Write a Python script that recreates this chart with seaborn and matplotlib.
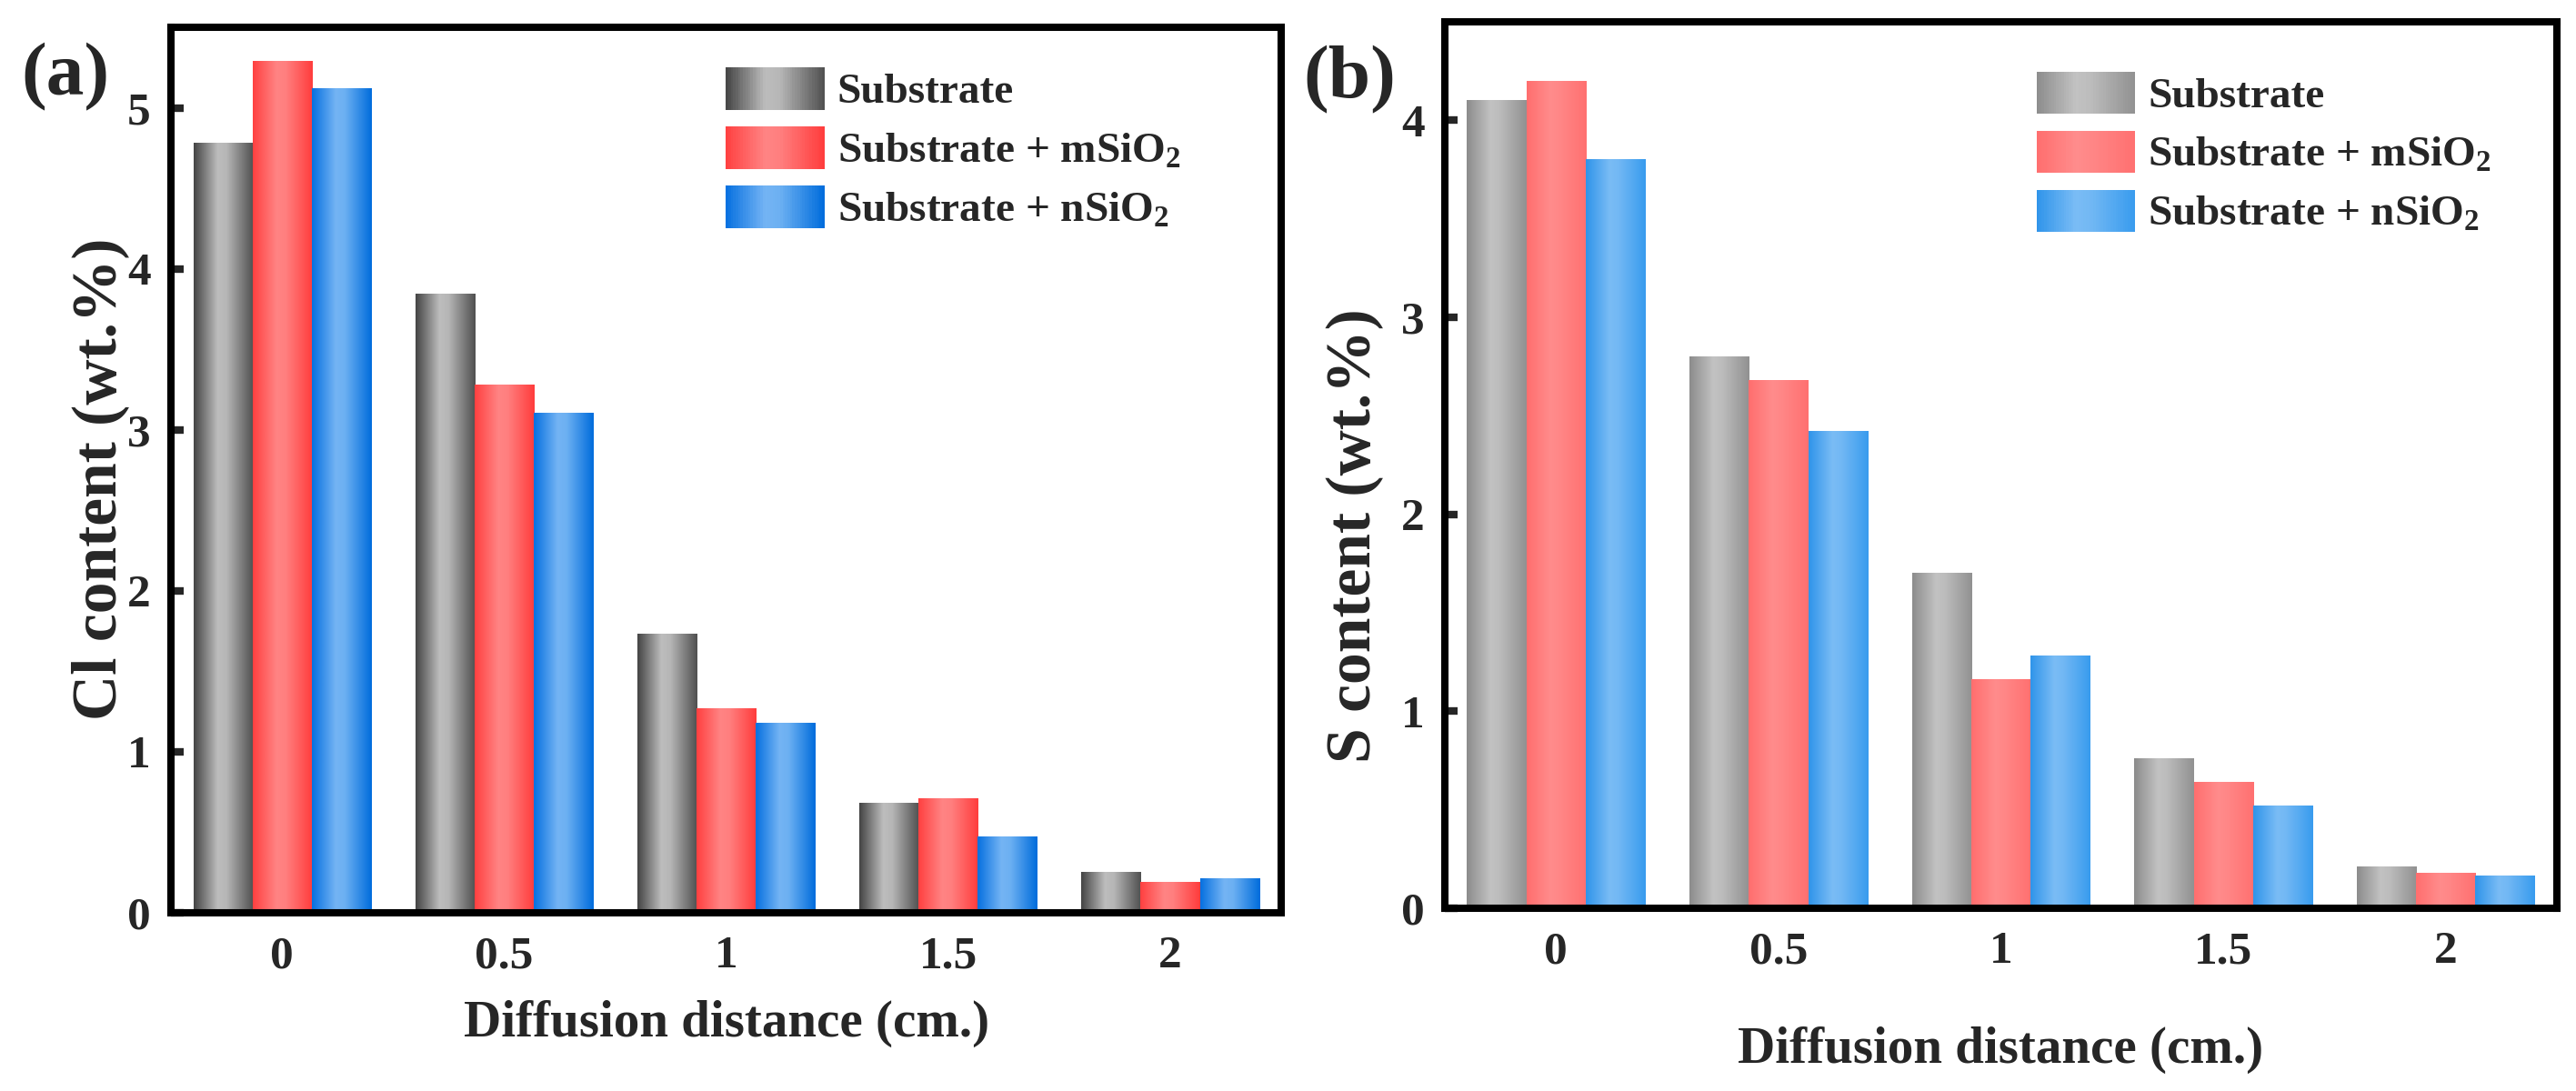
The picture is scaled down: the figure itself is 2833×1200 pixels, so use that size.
import numpy as np
import pandas as pd
import seaborn as sns
import matplotlib.pyplot as plt
from matplotlib.colors import LinearSegmentedColormap
from matplotlib.patches import Patch, Rectangle
from matplotlib.legend_handler import HandlerBase

# ---- data ----
distances = ['0', '0.5', '1', '1.5', '2']
samples = ['Substrate', 'Substrate + mSiO$_2$', 'Substrate + nSiO$_2$']

cl_substrate = [4.78, 3.84, 1.73, 0.68, 0.25]
cl_msio2 = [5.29, 3.28, 1.27, 0.71, 0.19]
cl_nsio2 = [5.12, 3.10, 1.18, 0.47, 0.21]

s_substrate = [4.10, 2.80, 1.70, 0.76, 0.21]
s_msio2 = [4.20, 2.68, 1.16, 0.64, 0.18]
s_nsio2 = [3.80, 2.42, 1.28, 0.52, 0.165]

# gradient stops per series (edge - light - edge)
grad_a = [
    [(0, '#444444'), (0.4, '#bdbdbd'), (0.55, '#b6b6b6'), (1, '#505050')],
    [(0, '#ff4040'), (0.4, '#ff8484'), (0.55, '#ff7f7f'), (1, '#ff3c3c')],
    [(0, '#0670e0'), (0.4, '#74b4f4'), (0.55, '#6cb0f2'), (1, '#006cdc')],
]
grad_b = [
    [(0, '#8c8c8c'), (0.4, '#c2c2c2'), (0.55, '#bcbcbc'), (1, '#919191')],
    [(0, '#ff6e6e'), (0.4, '#ff8c8c'), (0.55, '#ff8787'), (1, '#ff7070')],
    [(0, '#2f94ea'), (0.4, '#7abcf5'), (0.55, '#72b8f4'), (1, '#389bee')],
]


def long_df(a, b, c):
    rows = []
    for s, vals in zip(samples, [a, b, c]):
        for d, v in zip(distances, vals):
            rows.append({'dist': d, 'sample': s, 'val': v})
    return pd.DataFrame(rows)


class GradHandler(HandlerBase):
    def __init__(self, stops):
        super().__init__()
        self.cmap = LinearSegmentedColormap.from_list('h', stops)

    def create_artists(self, legend, orig_handle, xdescent, ydescent,
                       width, height, fontsize, trans):
        n = 40
        arts = []
        for i in range(n):
            arts.append(Rectangle((-xdescent + width * i / n, -ydescent),
                                  width / n * 1.08, height,
                                  facecolor=self.cmap((i + 0.5) / n),
                                  edgecolor='none', transform=trans))
        return arts


def paint_bars(ax, stops):
    g = np.linspace(0, 1, 256).reshape(1, -1)
    for cont, st in zip(ax.containers, stops):
        cmap = LinearSegmentedColormap.from_list('g', st)
        for bar in cont:
            x, y = bar.get_x(), bar.get_y()
            w, h = bar.get_width(), bar.get_height()
            bar.set_facecolor('none')
            bar.set_edgecolor('none')
            ax.imshow(g, cmap=cmap, extent=(x, x + w, y, y + h),
                      aspect='auto', interpolation='bilinear', zorder=2)


sns.set_style('white')
plt.rcParams['font.family'] = ['Liberation Serif', 'DejaVu Serif']
plt.rcParams['font.weight'] = 'bold'
plt.rcParams['mathtext.fontset'] = 'custom'
plt.rcParams['mathtext.rm'] = 'Liberation Serif:bold'
plt.rcParams['mathtext.it'] = 'Liberation Serif:italic:bold'
plt.rcParams['mathtext.bf'] = 'Liberation Serif:bold'

fig = plt.figure(figsize=(28.33, 12), dpi=100)
ax1 = fig.add_axes([0.0664, 0.1633, 0.4310, 0.8117])
ax2 = fig.add_axes([0.5609, 0.1675, 0.4317, 0.8125])

panels = [
    (ax1, long_df(cl_substrate, cl_msio2, cl_nsio2), grad_a, 5.5, range(0, 6),
     'Cl content (wt.%)', (0.4996, 0.955), -0.064, 0.49, -0.125),
    (ax2, long_df(s_substrate, s_msio2, s_nsio2), grad_b, 4.5, range(0, 5),
     'S content (wt.%)', (0.532, 0.944), -0.081, 0.42, -0.16),
]

for ax, df, stops, ytop, yt, ylab, lpos, ylx, yly, xly in panels:
    sns.barplot(data=df, x='dist', y='val', hue='sample', order=distances,
                hue_order=samples, ax=ax, width=0.8, saturation=1,
                errorbar=None, legend=False)
    paint_bars(ax, stops)
    ax.set_xlim(-0.5, 4.5)
    ax.set_ylim(0, ytop)
    ax.set_yticks(list(yt))
    for sp in ax.spines.values():
        sp.set_visible(True)
        sp.set_linewidth(5.8)
        sp.set_color('black')
        sp.set_zorder(5)
    ax.tick_params(axis='y', direction='in', length=10, width=6,
                   labelsize=37, pad=16, left=True)
    ax.tick_params(axis='x', length=0, labelsize=37, pad=18)
    ax.set_xlabel('Diffusion distance (cm.)', fontsize=41, fontweight='bold')
    ax.set_ylabel(ylab, fontsize=50, fontweight='bold')
    ax.xaxis.set_label_coords(0.5, xly)
    ax.xaxis.label.set_va('center')
    ax.yaxis.set_label_coords(ylx, yly)
    ax.yaxis.label.set_va('center')

    handles = [Patch() for _ in samples]
    hmap = {h: GradHandler(st) for h, st in zip(handles, stops)}
    ax.legend(handles, samples, handler_map=hmap, loc='upper left',
              bbox_to_anchor=lpos, frameon=False, borderpad=0,
              borderaxespad=0, handlelength=2.3, handleheight=1.15,
              labelspacing=0.33, handletextpad=0.3,
              prop={'family': 'Liberation Serif', 'weight': 'bold', 'size': 34})

fig.text(72 / 2833, 1 - 85 / 1200, '(a)', fontsize=60, fontweight='bold',
         ha='center', va='center')
fig.text(1484 / 2833, 1 - 88 / 1200, '(b)', fontsize=60, fontweight='bold',
         ha='center', va='center')

fig.savefig('out.png', dpi=100, facecolor='white')
